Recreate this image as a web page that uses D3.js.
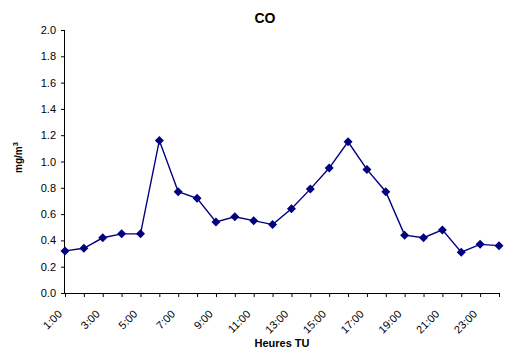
<!DOCTYPE html>
<html><head><meta charset="utf-8">
<script src="https://cdn.jsdelivr.net/npm/d3@7"></script>
<style>
html,body{margin:0;padding:0;background:#fff;}
svg{display:block;font-family:"Liberation Sans",Arial,sans-serif;}
</style></head>
<body><svg id="c" width="508" height="349"></svg>
<script>
const hours = ["1:00","2:00","3:00","4:00","5:00","6:00","7:00","8:00","9:00","10:00","11:00","12:00",
  "13:00","14:00","15:00","16:00","17:00","18:00","19:00","20:00","21:00","22:00","23:00","24:00"];
const coValues = [0.32,0.34,0.42,0.45,0.45,1.16,0.77,0.72,0.54,0.58,0.55,0.52,
  0.64,0.79,0.95,1.15,0.94,0.77,0.44,0.42,0.48,0.31,0.37,0.36];
const yTicks = [0,0.2,0.4,0.6,0.8,1.0,1.2,1.4,1.6,1.8,2.0];
const chartTitle = "CO";
const yTitle = "mg/m";
const xTitle = "Heures TU";

const svg = d3.select("#c");
const pLeft = 65, pRight = 499, pTop = 30, pBottom = 293;
const x = d3.scalePoint().domain(hours).range([pLeft, pRight]);
const y = d3.scaleLinear().domain([0, 2]).range([pBottom, pTop]);

// Y axis
const yAxis = svg.append("g").attr("transform", `translate(${pLeft},0)`)
  .call(d3.axisLeft(y).tickValues(yTicks).tickFormat(d3.format(".1f")).tickSize(4).tickPadding(5));
yAxis.select(".domain").attr("stroke","#000").attr("d", `M-0.5,${pTop}V${pBottom}`);
yAxis.selectAll("text").attr("font-size", 11).attr("fill","#000").attr("font-family","Liberation Sans, Arial");

// X axis
const xAxis = svg.append("g").attr("transform", `translate(0,${pBottom})`)
  .call(d3.axisBottom(x).tickSize(4).tickFormat((d,i) => i % 2 === 0 ? d : ""));
xAxis.select(".domain").attr("stroke","#000").attr("d", `M${pLeft},0.5H${pRight}`);
xAxis.selectAll("text")
  .attr("font-size", 11).attr("fill","#000").attr("font-family","Liberation Sans, Arial")
  .attr("text-anchor","end")
  .attr("x", 0).attr("y", 0).attr("dy","0.35em")
  .attr("transform","translate(-5.5,19) rotate(-45)");

// Line
svg.append("path")
  .datum(coValues)
  .attr("fill","none").attr("stroke","#000080").attr("stroke-width",1.4)
  .attr("d", d3.line().x((d,i)=>x(hours[i])).y(d=>y(d)));

// Markers
svg.append("g").selectAll("path").data(coValues).join("path")
  .attr("transform",(d,i)=>`translate(${x(hours[i])},${y(d)})`)
  .attr("d","M0,-4.5L4.5,0L0,4.5L-4.5,0Z")
  .attr("fill","#000080");

// Titles
svg.append("text").attr("x",265).attr("y",23).attr("text-anchor","middle")
  .attr("font-size",14).attr("font-weight","bold").text(chartTitle);
const yt = svg.append("text").attr("transform","translate(21.5,157.5) rotate(-90)")
  .attr("text-anchor","middle").attr("font-size",10).attr("font-weight","bold");
yt.append("tspan").text(yTitle);
yt.append("tspan").attr("dy",-4).attr("font-size",7.5).text("3");
svg.append("text").attr("x",282).attr("y",347).attr("text-anchor","middle")
  .attr("font-size",11).attr("font-weight","bold").text(xTitle);
</script></body></html>
